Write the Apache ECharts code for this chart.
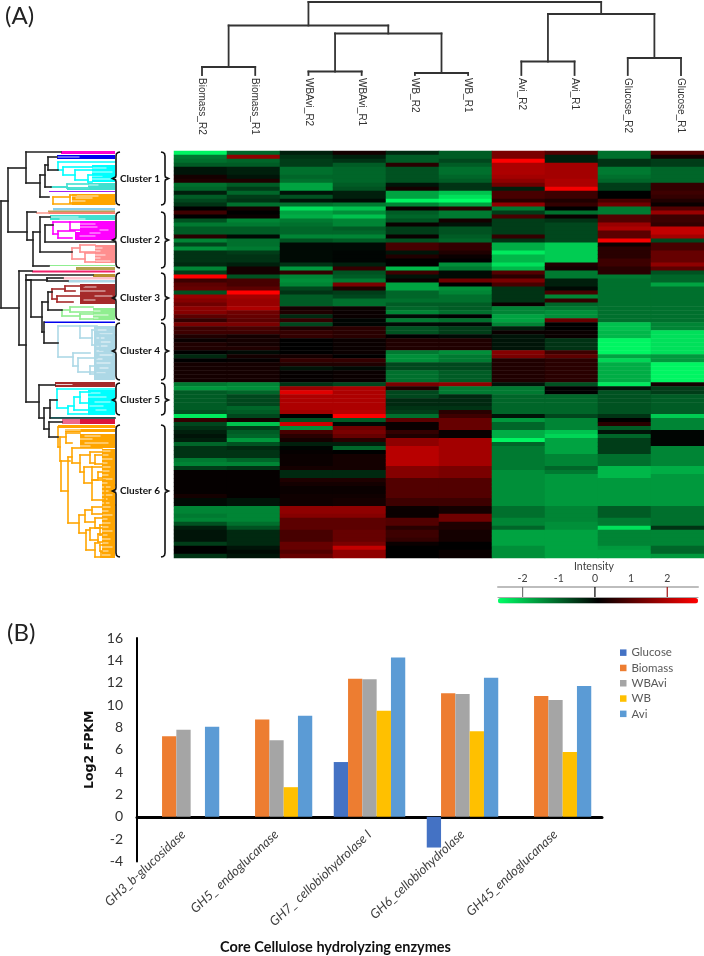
<!DOCTYPE html>
<html><head><meta charset="utf-8">
<style>html,body{margin:0;padding:0;background:#fff}#c{width:704px;height:956px}</style>
<script src="https://cdn.jsdelivr.net/npm/echarts@6/dist/echarts.min.js"></script>
</head><body><div id="c"></div>
<script>
// ---------- Panel A: sample names and heat map columns (Intensity, rows top to bottom)
const samples = ['Biomass_R2','Biomass_R1','WBAvi_R2','WBAvi_R1','WB_R2','WB_R1','Avi_R2','Avi_R1','Glucose_R2','Glucose_R1'];
const biomassR2 = [-2.4,-1.2,-1.1,-0.9,-0.2,-0.2,0.2,0.3,-1.1,-1.0,-0.3,-0.9,-0.7,-0.5,0,0.6,0,-0.8,-1.2,-0.9,-0.9,0.4,-1.3,-0.7,-1.4,-0.5,-0.5,-0.5,-0.4,-1.3,-0.6,2.5,0.6,0.9,1.0,-0.8,1.5,1.3,1.1,1.4,1.3,0.9,0.5,1.2,0.6,0.6,0.3,0.1,0.3,0.3,0,
 -0.4,0,0.2,0.2,0.2,0.2,0.2,-1.2,-1.5,-0.9,-0.9,-0.9,-0.9,-0.9,-0.8,-2.3,0.5,-0.7,-0.5,-0.3,-0.2,-0.3,-1.0,-0.5,-0.5,-0.5,-1.2,-1.3,-0.6,0.05,0.05,0.05,0.05,0.05,0.05,0.2,-0.1,-0.1,-1.3,-1.3,-1.2,-1.3,-0.8,-0.3,-0.2,-0.2,-0.2,-0.6,0,0,-0.5];
const biomassR1 = [-1.0,1.4,-1.0,-0.9,-0.3,-0.3,-0.2,0.3,-0.9,-0.6,-1.0,-0.6,-0.5,-1.1,0.2,0,0.1,-1.3,-1.2,-0.9,-0.9,-0.1,-1.1,-1.1,-1.2,-0.6,-0.5,-0.5,-0.3,0.2,0.2,-0.8,0.7,0.7,0.9,2.6,1.6,1.5,1.5,1.7,1.1,1.0,0.9,1.2,0.7,0.6,0.2,0.2,0.2,0.3,-0.1,
 0.2,0.05,0.2,0.2,0.2,0.2,0.2,-1.3,-1.4,-1.0,-0.7,-0.7,-0.7,-1,-0.9,-0.7,0.2,-1.9,-0.6,-0.9,-1,-1.5,-0.8,-0.4,-0.5,-0.5,-1,-1.3,-0.5,0.05,0.05,0.05,0.05,0.05,0.05,0.05,-0.2,-0.2,-1.3,-1.3,-1.3,-1.3,-1.1,-0.8,-0.4,-0.4,-0.4,-0.4,-0.2,-0.1,-0.2];
const wbAviR2 = [-0.3,-0.5,-0.6,-0.6,-1.1,-1.1,-1.0,-1.1,-1.6,-1.6,-0.2,-0.8,-0.2,-1.1,-2.2,-1.6,-1.7,-1.2,-1.1,-1.0,-1.0,-1.3,-0.8,-0.1,-0.1,-0.1,-0.1,-0.1,-0.5,-1.5,0.5,-1.3,-1.4,-1.3,-0.7,-0.5,-0.9,-0.9,-0.9,0.2,0.3,-0.4,0.5,-0.7,0.3,0.5,0.5,0,0,0,0,
 0.2,0.5,0.3,-0.2,0.05,0.05,0.05,-0.5,1.5,2.2,1.7,1.7,1.7,1.7,1.6,0,-0.8,2,-1.4,0.7,0.4,0.2,-0.3,-0.05,0.05,0.1,0.1,0.1,0.2,-0.4,-0.4,0.3,0.2,0.1,0.1,0.15,0.15,0.15,1.4,1.4,1.3,0.9,0.9,0.9,0.7,0.7,0.7,1,1,0.8,1];
const wbAviR1 = [0.2,-0.3,-0.5,-0.9,-1,-1,-1,-1,-0.9,-0.8,-0.3,-0.3,-0.1,-1.2,-1.9,-1.4,-1.9,-1.3,-1.3,-0.9,-1.0,-1.3,-0.9,-0.1,-0.1,-0.05,-0.05,-0.05,-0.3,0.5,-0.8,-0.9,-1.2,1.2,0.3,-0.6,-0.7,-1.1,-1.1,0.1,0.1,0.1,-0.05,-0.05,0.4,0.4,0.4,0.1,0.1,0.1,0.1,
 0,0.5,0.3,-0.1,0.1,0.1,0.1,-0.7,1.7,1.7,1.7,1.7,1.7,1.7,1.8,2.5,-0.9,-0.1,1.1,1.2,1,0.4,-0.3,-1,0,0.2,0.2,0.2,0.2,-0.4,-0.4,0.3,0.2,0.1,0.1,0.15,0.2,0.2,1.4,1.4,1.3,0.9,0.9,0.9,1,1,1,1.2,1.9,1.4,1.4];
const wbR2 = [-0.4,-0.9,-0.9,0.4,-0.8,-0.8,-0.8,-0.8,-0.2,0.2,-1.6,-1.6,-2.4,-1.3,0.1,-0.9,-1,-0.8,0.1,-0.6,-0.6,0.1,-0.8,0.7,0.7,-0.2,0.3,0,0,-1.8,0.6,-0.2,0.1,-1.6,-1.6,-1.0,-1.0,-1.1,-0.9,-1,-1.3,-0.1,-1.2,-0.1,-0.8,-0.8,0,0.3,0.3,0.3,-1.2,
 -1.4,-1.4,-0.7,-0.7,-1.1,-1.1,-1.1,1.2,0.3,-0.7,-0.7,-0.4,-0.4,-0.5,-0.6,-1.1,0.9,0.1,0.1,0.5,0.3,1.4,1.4,1.8,1.8,1.8,1.8,1.8,1.3,1.3,1.3,0.8,0.8,0.8,0.8,0.8,0.6,0.6,0.1,0.1,0.1,0.8,0.8,0.4,0.6,0.6,0.5,0.1,0,0,0];
const wbR1 = [-0.9,-0.9,-0.7,-0.9,-1.1,-1.1,-1,-0.9,-0.5,-0.5,-1.9,-2.2,-2.5,-1.6,0.4,-1.2,-1.2,0.2,-0.2,-0.8,-0.8,-0.9,-1,0.5,0.5,0.3,0.1,0,-1.4,-1.2,-0.1,-0.1,1.1,0,-1.4,-1.3,-1.1,-1.1,-0.9,-0.9,-1.1,0,-1.1,-0.1,-0.6,-0.6,-0.1,0.3,0.3,0.3,-1.4,
 -1.2,-1.2,-0.7,-0.7,-0.9,-0.9,-0.9,1.4,-1.2,-1.2,-0.4,-0.4,-0.4,-0.5,0.4,0.6,1,1,1,0.1,0.1,1.6,1.6,1.6,1.6,1.6,1.6,1.6,1.2,1.2,1.2,0.8,0.8,0.8,0.8,0.8,0.6,0.6,0.2,0.2,1.1,1.1,0.3,0.3,0.2,0.2,0.2,0,0,0.1,0.1];
const aviR2 = [1.2,1.2,2.6,1.7,1.7,1.7,1.6,1.4,1.1,-0.3,0.7,0.7,0.4,1.4,-1.2,-0.6,0.7,-0.6,-0.6,-0.6,-0.6,0.5,-0.5,-1.7,-1.7,-2.3,-1.8,-1.8,-2.2,-1.8,0.8,0.4,1.2,0.7,-0.5,-0.5,-0.5,-0.5,0.1,-1.3,-1.3,-1.6,-1.6,-1.3,-0.3,0.1,-0.2,-0.2,-0.2,-0.2,1.3,
 1.2,0.3,0.3,0.3,0.3,0.3,0.3,-0.2,-1.2,-1.2,-1,-1,-1,-1,-1,-0.2,-1.5,-1,-1,-1.7,-1.7,-2.4,-1,-1.2,-1.2,-1.2,-1.2,-1.2,-1.2,-1.4,-1.4,-1.4,-1.4,-1.4,-1.4,-1.4,-1.4,-1.4,-1.1,-1.1,-1.1,-1.3,-1.3,-1,-1.6,-1.6,-1.6,-1.6,-1.4,-1.4,-1.4];
const aviR1 = [0.8,-0.3,-0.3,1.6,1.6,1.6,1.6,1.7,1.7,2.4,0.6,0.6,0.3,0.5,0,-1.1,0.1,-0.5,-0.7,-0.7,-0.7,-0.7,-0.7,-2,-2,-2,-2,-2,0.3,0.2,-1.2,-1.2,-0.3,-0.3,-0.1,0.7,-1.3,0.5,-1,-1.2,-1.4,-1.4,1.0,0,0,0.1,0.1,-0.5,-0.5,-0.5,0.6,
 0.9,0.4,0.4,0.4,0.4,0.4,0.4,-0.8,0,0,-1,-1,-1,-1,-1,-0.7,-1.3,-1.3,-1.3,-1.9,-2.1,-1.6,-1.6,-1.6,-1.6,-1.3,-1.3,-1.3,-1,-1.2,-1.5,-1.5,-1.5,-1.5,-1.5,-1.5,-1.5,-1.5,-1.3,-1.3,-1.3,-1.3,-1.4,-1.4,-1.6,-1.6,-1.6,-1.6,-1.6,-1.6,-1.6];
const glucoseR2 = [-1.1,-1.1,-0.5,-0.5,-1.2,-1.2,-1.1,-1,-0.6,-0.6,0,0,0.7,1.1,-1.2,-1.2,0.8,0.8,1.5,1.7,0.9,0.9,2.4,0.1,0.4,0.4,0.4,0.6,0.6,0.4,0.4,-1.2,-1.1,-1.1,-1.1,-1.1,-1.1,-1.1,-1.1,-1.1,-1.1,-1.1,-1.1,-1.9,-1.9,-1.8,-1.8,-2.4,-2.4,-2.4,-2.4,
 -1.6,-2.1,-1.7,-1.7,-1.7,-1.7,-1.7,-2.3,-0.2,-0.8,-0.8,-0.8,-0.8,-0.8,-0.8,-0.5,0,0.4,-0.9,-0.2,-1,-0.6,-0.6,-0.6,-0.6,-1.1,-1.1,-1.1,-1.8,-1.8,-1.8,-1.5,-1.5,-1.5,-1.5,-1.5,-1.5,-1.5,-0.9,-0.9,-0.9,-1.2,-1.2,-2.2,-1.3,-1.3,-1.3,-1.3,-1.5,-1.6,-1.6];
const glucoseR1 = [0.8,0.2,-0.6,-0.6,-1,-1,-1,-1,0.5,0.5,0.6,0.5,0.3,0.1,0.8,1.5,0.6,0.6,0.5,1.9,1.9,1.6,-0.7,0.7,0.7,1,1,1,1.4,0.9,-0.8,-1,-1,-1.6,-1.1,-1.1,-1.1,-1.1,-1.1,-1.1,-1.1,-1.1,-1.1,-1.3,-1.3,-2.2,-2.2,-2.2,-2.2,-2.2,-2.2,
 -1.5,-1.5,-2.4,-2.4,-2.4,-2.4,-2.4,0.2,-0.6,-0.6,-0.9,-0.9,-0.9,-0.9,-0.9,-2,-1.3,-1.3,-1.3,-0.05,-0.05,-0.05,-0.05,-1.3,-1.3,-1.3,-1.3,-1.3,-1.7,-1.7,-1.5,-1.5,-1.5,-1.5,-1.5,-1.5,-1.5,-1.5,-1.1,-1.1,-1.1,-1.1,-1.1,-0.5,-1.3,-1.3,-1.3,-1.3,-1,-1,-1.5];
const heatColumns = [biomassR2,biomassR1,wbAviR2,wbAviR1,wbR2,wbR1,aviR2,aviR1,glucoseR2,glucoseR1];

// Sample dendrogram merges: [left leaf, right leaf, left child height, right child height, merge height]
const sampleMerges = [[0,1,0,0,8],[2,3,0,0,3.5],[4,5,0,0,2],[6,7,0,0,13.5],[8,9,0,0,17],[2.5,4.5,3.5,2,41.5],[0.5,3.5,8,41.5,49.5],[6.5,8.5,13.5,17,61],[2,7.5,49.5,61,73]];

// Gene dendrogram: brackets [merge distance, top leaf, bottom leaf, top child distance, bottom child distance]
const geneBlack = [[1,201,308,8,19],[8,168,232,26,27],[26,152,183,61,40],[40,175,197,45,49],[45,165,187,48,51],[48,157,170,57,58],[27,212,240,36,33],[33,232,266,40,49],[40,217,252,50,72],[45,225,242,53,115],
 [19,271,345,32,26],[26,275,402,93,39],[26,280,280,31,31],[31,280,317,47,42],[47,278,281,63,68],[42,302,332,48,44],[48,292,310,52,62],[44,322,343,44,58],[39,385,418,55,44],[44,408,429,50,49],[49,422,437,62,58],[50,400,418,57,115]];
const geneClades = [
 {color:'#ff00cc',bands:[[61,151,154]],gaps:[],brackets:[]},
 {color:'#0000ee',bands:[[57,155,159]],gaps:[[157,57,79]],brackets:[]},
 {color:'#00ffff',bands:[[92,165,182]],gaps:[[168,92,106],[172,92,112],[176,92,102],[179,92,110]],brackets:[[58,162,170,115,63],[63,167,175,92,75],[75,170,180,92,88],[88,175,182,115,92]]},
 {color:'#40e0d0',bands:[[88,183,190],[67,187,190]],gaps:[[185,88,98],[188,70,88]],brackets:[[51,187,187,67,67],[67,184,188,88,88]]},
 {color:'#a020f0',bands:[[49,191,192]],gaps:[],brackets:[]},
 {color:'#ffa500',bands:[[72,194,205]],gaps:[[196,72,98],[198,76,92],[201,72,85]],brackets:[[53,197,204,70,115],[70,195,203,76,76]]},
 {color:'#87ceeb',bands:[[53,208,210.5]],gaps:[],brackets:[]},
 {color:'#bda058',bands:[[48,210.5,212]],gaps:[],brackets:[]},
 {color:'#fa8072',bands:[[36,212,214]],gaps:[[213,36,48]],brackets:[]},
 {color:'#40e0d0',bands:[[50,215,220]],gaps:[[217,50,78],[219,60,85]],brackets:[]},
 {color:'#ff00ff',bands:[[80,221,232],[75,232,240]],gaps:[[224,80,95],[227,78,97],[230,100,108],[233,90,100],[236,80,95]],brackets:[[53,222,234,70,58],[58,231,238,75,72],[70,222,230,85,85]]},
 {color:'#ff8f8f',bands:[[95,245,263]],gaps:[[248,95,102],[251,95,100],[255,95,105],[258,95,100],[261,95,110]],brackets:[[72,248,259,80,85],[80,245,252,95,95],[85,253,262,95,95]]},
 {color:'#90ee90',bands:[[49,265,266]],gaps:[],brackets:[]},
 {color:'#b5a24f',bands:[[76,267,270]],gaps:[],brackets:[]},
 {color:'#f0226a',bands:[[32,270.5,272.5]],gaps:[],brackets:[]},
 {color:'#b8902f',bands:[[93,274,277]],gaps:[],brackets:[]},
 {color:'#ffc0cb',bands:[[63,277,279.5]],gaps:[],brackets:[]},
 {color:'#add8e6',bands:[[68,280,282.5]],gaps:[],brackets:[]},
 {color:'#a52a2a',bands:[[80,284,304]],gaps:[[287,84,96],[291,75,105],[296,95,112],[300,84,95]],brackets:[[52,289,299,65,57],[65,286,291,84,75],[57,296,302,84,73]]},
 {color:'#90ee90',bands:[[93,308,320]],gaps:[[311,93,100],[315,93,108],[318,93,98]],brackets:[[62,310,316,70,80],[70,307,312,93,93],[80,314,319,93,93]]},
 {color:'#0000ee',bands:[[44,321.5,323]],gaps:[],brackets:[]},
 {color:'#add8e6',bands:[[94,326,380]],gaps:[[330,94,106],[334,100,112],[338,97,104],[342,100,110],[346,97,107],[351,97,103],[355,100,112],[359,97,102],[363,97,110],[368,100,108],[373,97,105]],brackets:[[58,326,357,80,73],[80,326,338,97,92],[92,330,345,97,100],[100,335,350,115,105],[73,353,366,90,78],[78,358,372,97,95],[90,366,374,100,105]]},
 {color:'#a52a2a',bands:[[72,382,387],[55,382,387]],gaps:[[384.5,56,72]],brackets:[]},
 {color:'#00ffff',bands:[[88,390,415],[50,417,418.5]],gaps:[[393,88,100],[397,88,106],[402,95,110],[406,90,103],[410,96,106]],brackets:[[57,389,408,115,68],[68,406,414,74,90],[74,397,410,80,90],[80,392,403,90,90]]},
 {color:'#ee6a8c',bands:[[62,419,424]],gaps:[],brackets:[]},
 {color:'#dc143c',bands:[[80,419,424]],gaps:[],brackets:[]},
 {color:'#ffa500',bands:[[58,425,428],[65,429,432],[80,434,448],[102,449,558]],
  gaps:[[430,65,80],[436,85,100],[439,80,92],[443,85,108],[446,80,90],[451,102,110],[455,102,108],[459,102,112],[463,102,107],[467,102,110],[471,102,109],[475,102,108],[479,102,112],[483,102,107],[487,102,110],[491,102,108],[495,102,112],[499,102,107],[503,102,109],[507,102,110],[511,102,108],[515,102,112],[519,102,107],[523,102,110],[527,102,108],[531,102,112],[535,102,107],[539,102,110],[543,102,108],[547,102,112],[551,102,108],[555,102,110]],
  brackets:[[58,427,447,115,60],[60,437,461,66,61],[66,433,443,80,72],[61,461,491,70,68],[68,457,523,72,79],[72,448,463,102,80],[80,455,472,90,84],[90,452,463,102,95],[95,455,464,102,102],[84,467,483,92,92],[92,467,480,102,98],[92,480,500,105,105],[98,472,478,102,102],[105,485,505,115,115],[79,515,533,85,86],[85,510,522,92,95],[92,507,514,102,102],[95,518,528,102,102],[86,530,550,90,95],[90,528,540,100,98],[100,525,535,102,102],[98,534,542,102,102],[95,543,557,100,101],[100,545,551,102,102],[101,552,557,102,102]]}
];
// Cluster names and their leaf spans [first leaf, label leaf, last leaf]
const clusterNames = ['Cluster 1','Cluster 2','Cluster 3','Cluster 4','Cluster 5','Cluster 6'];
const clusterSpans = [[152,178.5,205],[212,240,268],[273,298,320],[323,351,380],[383,400,415],[425,491,557]];

// Intensity scale
const intensityTicks = [-2,-1,0,1,2];
const intensityMarks = [[-2,'#777777'],[0,'#000000'],[2,'#a01010']];

// ---------- Panel B
const enzymes = ['GH3_b-glucosidase','GH5_ endoglucanase','GH7_ cellobiohydrolase I','GH6_cellobiohydrolase','GH45_endoglucanase'];
const glucose = [null,null,4.9,-2.75,null];
const biomass = [7.2,8.7,12.35,11.05,10.8];
const wbAvi = [7.8,6.85,12.3,11.0,10.45];
const wb = [null,2.65,9.5,7.65,5.8];
const avi = [8.05,9.05,14.25,12.45,11.7];

// ---------- Segments through the axis scales
const topSegs = [];
sampleMerges.forEach(([a,b,ha,hb,h]) => { topSegs.push([a,ha,a,h,1.8,'#333333'],[b,hb,b,h,1.8,'#333333'],[a,h,b,h,1.8,'#333333']); });
function bracketSegs(list,color,w){ const out=[]; list.forEach(([x,y0,y1,e0,e1]) => {
  out.push([x,y0,x,y1,w,color],[x,y0,e0,y0,w,color],[x,y1,e1,y1,w,color]); }); return out; }
const treeRight = 115;
const leftSegs = [];
geneClades.forEach(c => c.bands.forEach(([x,y0,y1]) => leftSegs.push([x,y0,treeRight,y1,0,c.color])));
geneClades.forEach(c => c.gaps.forEach(([y,x0,x1]) => leftSegs.push([x0,y,x1,y,0.8,'#ffffff'])));
geneClades.forEach(c => leftSegs.push(...bracketSegs(c.brackets,c.color,1.6)));
leftSegs.push(...bracketSegs(geneBlack,'#222222',1.6));

function renderSeg(params,api){
  const a=api.coord([api.value(0),api.value(1)]), b=api.coord([api.value(2),api.value(3)]);
  const w=api.value(4), col=api.value(5);
  if(w===0) return {type:'rect',shape:{x:a[0],y:a[1],width:b[0]-a[0],height:b[1]-a[1]},style:{fill:col}};
  return {type:'line',shape:{x1:a[0],y1:a[1],x2:b[0],y2:b[1]},style:{stroke:col,lineWidth:w,lineCap:'square'}};
}
function renderBrace(params,api){
  const i=api.value(0), s=clusterSpans[i], kids=[];
  [[116,-1],[165,1]].forEach(([x,d]) => {
    const y0=s[0], m=s[1], y1=s[2], h=-d;
    const raw=[[x+4*h,y0],[x+2*h,y0+0.4],[x+0.5*h,y0+1.6],[x,y0+4],[x,m-3],[x+0.4*d,m-1.4],[x+3.5*d,m],[x+0.4*d,m+1.4],[x,m+3],[x,y1-4],[x+0.5*h,y1-1.6],[x+2*h,y1-0.4],[x+4*h,y1]];
    kids.push({type:'polyline',shape:{points:raw.map(p=>api.coord(p))},style:{stroke:'#111111',lineWidth:1.6,fill:null}});
  });
  const c=api.coord([140,s[1]]);
  kids.push({type:'text',x:c[0],y:c[1],style:{text:clusterNames[i],font:'bold 10px Lato',fill:'#111111',align:'center',verticalAlign:'middle'}});
  return {type:'group',children:kids};
}
function renderMark(params,api){
  const a=api.coord([api.value(0),1]), b=api.coord([api.value(0),0]);
  return {type:'line',shape:{x1:a[0],y1:a[1],x2:b[0],y2:b[1]},style:{stroke:intensityMarks[params.dataIndex][1],lineWidth:1.2}};
}

const heatData=[];
heatColumns.forEach((col,i)=>col.forEach((v,r)=>heatData.push([i,r,v])));
const rowIds=heatColumns[0].map((_,i)=>i);

const barSeries=[['Glucose',glucose,'#4472C4'],['Biomass',biomass,'#ED7D31'],['WBAvi',wbAvi,'#A5A5A5'],['WB',wb,'#FFC000'],['Avi',avi,'#5B9BD5']]
 .map(([name,data,color])=>({name,type:'bar',data,xAxisIndex:5,yAxisIndex:4,barWidth:14.3,barGap:'0%',itemStyle:{color},emphasis:{disabled:true}}));

const chart=echarts.init(document.getElementById('c'),null,{renderer:'canvas'});
chart.setOption({
 animation:false,backgroundColor:'#ffffff',tooltip:{show:false},
 title:[
  {text:'(A)',left:0,top:-1,textStyle:{fontFamily:'Lato',fontWeight:'normal',fontSize:24,color:'#222'}},
  {text:'(B)',left:2,top:616,textStyle:{fontFamily:'Lato',fontWeight:'normal',fontSize:24,color:'#222'}},
  {text:'Core Cellulose hydrolyzing enzymes',left:215,top:935,textStyle:{fontFamily:'Lato',fontWeight:'bold',fontSize:14.5,color:'#111'}}
 ],
 grid:[
  {left:174,top:151,width:530,height:407,outerBoundsMode:'none'},
  {left:202,top:0,width:479,height:75,outerBoundsMode:'none'},
  {left:0,top:145,width:175,height:420,outerBoundsMode:'none'},
  {left:498,top:587,width:200,height:10,outerBoundsMode:'none'},
  {left:137,top:638,width:465,height:223.5,outerBoundsMode:'none'}
 ],
 xAxis:[
  {gridIndex:0,type:'category',data:samples,show:false},
  {gridIndex:1,type:'value',min:0,max:9,interval:1,axisLine:{show:false},axisTick:{show:false},splitLine:{show:false},
   axisLabel:{rotate:-90,margin:3,fontFamily:'Liberation Sans',fontSize:10,color:'#333',formatter:v=>samples[v]||''}},
  {gridIndex:2,type:'value',min:0,max:175,show:false},
  {gridIndex:3,type:'value',min:-2.68,max:2.85,interval:1,position:'top',
   axisLine:{onZero:false,lineStyle:{color:'#bdbdbd',width:2}},axisTick:{show:false},splitLine:{show:false},
   axisLabel:{customValues:intensityTicks,margin:3,fontFamily:'Lato',fontSize:10.5,color:'#404040'},
   name:'Intensity',nameLocation:'middle',nameGap:13,nameTextStyle:{fontFamily:'Lato',fontSize:10.5,color:'#404040',padding:[0,8,0,0]}},
  {gridIndex:3,type:'value',min:-2.68,max:2.85,position:'bottom',axisLine:{onZero:false,lineStyle:{color:'#a8a8a8',width:1.2}},axisTick:{show:false},axisLabel:{show:false},splitLine:{show:false}},
  {gridIndex:4,type:'category',data:enzymes,axisLine:{onZero:true,lineStyle:{color:'#000',width:3}},axisTick:{show:false},
   axisLabel:{rotate:43,margin:-29,interval:0,fontFamily:'Lato',fontStyle:'italic',fontSize:13,color:'#404040'}}
 ],
 yAxis:[
  {gridIndex:0,type:'category',data:rowIds,inverse:true,show:false},
  {gridIndex:1,type:'value',min:0,max:75,show:false},
  {gridIndex:2,type:'value',min:145,max:565,inverse:true,show:false},
  {gridIndex:3,type:'value',min:0,max:1,show:false},
  {gridIndex:4,type:'value',min:-4,max:16,interval:2,axisLine:{show:true,lineStyle:{color:'#000',width:2}},axisTick:{show:false},splitLine:{show:false},
   axisLabel:{margin:14,fontFamily:'Lato',fontSize:14,color:'#333'},
   name:'Log2 FPKM',nameLocation:'middle',nameGap:34,nameTextStyle:{fontFamily:'DejaVu Sans',fontWeight:'bold',fontSize:12.5,color:'#111'}}
 ],
 visualMap:{type:'continuous',seriesIndex:0,dimension:2,min:-2.5,max:2.5,orient:'horizontal',left:498,top:598,itemWidth:5.5,itemHeight:200,padding:0,
  calculable:false,hoverLink:false,text:null,inRange:{color:['#00ff66','#000000','#ff0000']}},
 legend:{left:620,top:646.5,padding:0,orient:'vertical',itemWidth:6.5,itemHeight:6.5,itemGap:3,icon:'rect',selectedMode:false,
  textStyle:{fontFamily:'Lato',fontSize:11.5,color:'#595959',lineHeight:12.3},data:['Glucose','Biomass','WBAvi','WB','Avi']},
 series:[
  {type:'heatmap',data:heatData,xAxisIndex:0,yAxisIndex:0,progressive:0,emphasis:{disabled:true},itemStyle:{borderWidth:0}},
  {type:'custom',name:'samples',xAxisIndex:1,yAxisIndex:1,data:topSegs,renderItem:renderSeg,clip:false,silent:true},
  {type:'custom',name:'genes',xAxisIndex:2,yAxisIndex:2,data:leftSegs,renderItem:renderSeg,clip:false,silent:true},
  {type:'custom',name:'clusters',xAxisIndex:2,yAxisIndex:2,data:clusterNames.map((_,i)=>[i]),renderItem:renderBrace,clip:false,silent:true},
  {type:'custom',name:'marks',xAxisIndex:3,yAxisIndex:3,data:intensityMarks.map(m=>[m[0]]),renderItem:renderMark,clip:false,silent:true},
  ...barSeries
 ]
});
</script></body></html>
